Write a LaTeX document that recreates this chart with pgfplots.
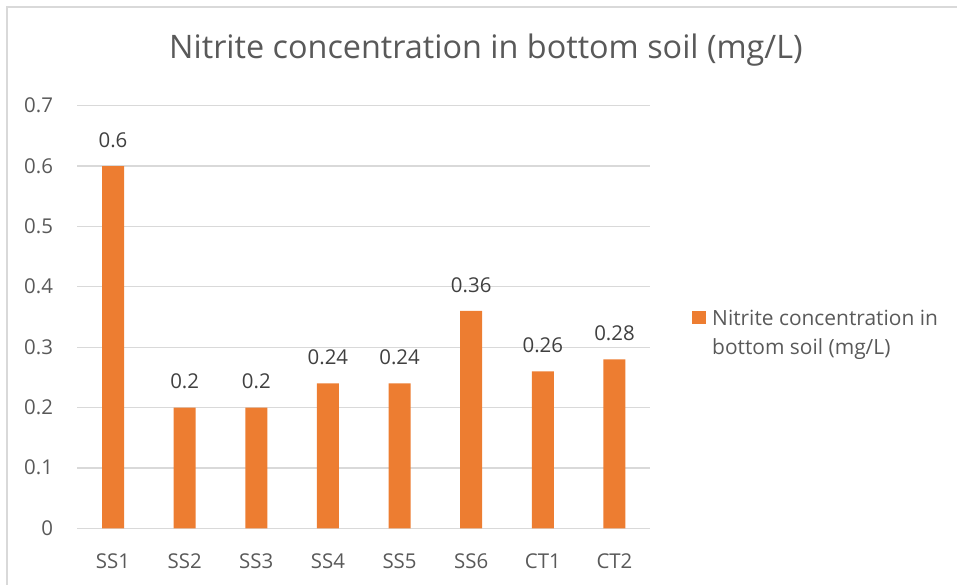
\documentclass[border=0pt]{standalone}
\usepackage{fontspec}
\setmainfont{Open Sans}
\usepackage{pgfplots}
\pgfplotsset{compat=1.18}
\definecolor{barorange}{RGB}{237,125,49}
\definecolor{gridgray}{RGB}{217,217,217}
\definecolor{ticktext}{RGB}{89,89,89}
\definecolor{labeltext}{RGB}{64,64,64}
\begin{document}
\begin{tikzpicture}[x=1bp,y=1bp]
\useasboundingbox (0,0) rectangle (957,585);
\draw[gridgray, line width=1.5bp] (7,0) -- (7,578) -- (957,578);
\node[anchor=base, font=\fontsize{32.5}{38}\selectfont, text=ticktext, inner sep=0pt] at (486,526) {Nitrite concentration in bottom soil (mg/L)};
\begin{axis}[
  at={(77.2bp,56.7bp)}, anchor=south west,
  scale only axis,
  width=573.1bp, height=422.6bp,
  xmin=-0.5, xmax=7.5, ymin=0, ymax=0.7,
  xtick=data,
  xticklabels={SS1,SS2,SS3,SS4,SS5,SS6,CT1,CT2},
  ytick={0,0.1,0.2,0.3,0.4,0.5,0.6,0.7},
  yticklabels={0,0.1,0.2,0.3,0.4,0.5,0.6,0.7},
  axis line style={draw=none},
  major tick length=0pt,
  ymajorgrids,
  grid style={gridgray, line width=1.3bp},
  xticklabel style={font=\fontsize{20.5}{25}\selectfont, text=ticktext, anchor=base, inner sep=0pt, yshift=-40bp},
  yticklabel style={font=\fontsize{20.5}{25}\selectfont, text=ticktext, anchor=base east, inner sep=0pt, xshift=-24bp, yshift=-7bp},
  ybar, bar width=22bp,
  nodes near coords,
  point meta=explicit symbolic,
  every node near coord/.append style={font=\fontsize{20.5}{25}\selectfont, text=labeltext, anchor=base, inner sep=0pt, yshift=18.7bp},
  legend style={at={(axis description cs:1.0728,0.5166)}, anchor=north west, draw=none, fill=none, inner sep=0pt,
    font=\fontsize{21}{29}\selectfont, text=ticktext,
    nodes={align=left, inner sep=0pt}},
  legend cell align=left,
  legend image code/.code={\fill[barorange] (0bp,9bp) rectangle (14bp,22bp); \path (20bp,9bp);},
]
\addplot[fill=barorange, draw=none] table[meta=lab] {
x y lab
0 0.6 0.6
1 0.2 0.2
2 0.2 0.2
3 0.24 0.24
4 0.24 0.24
5 0.36 0.36
6 0.26 0.26
7 0.28 0.28
};
\addlegendentry{Nitrite concentration in\\bottom soil (mg/L)}
\end{axis}
\end{tikzpicture}
\end{document}
